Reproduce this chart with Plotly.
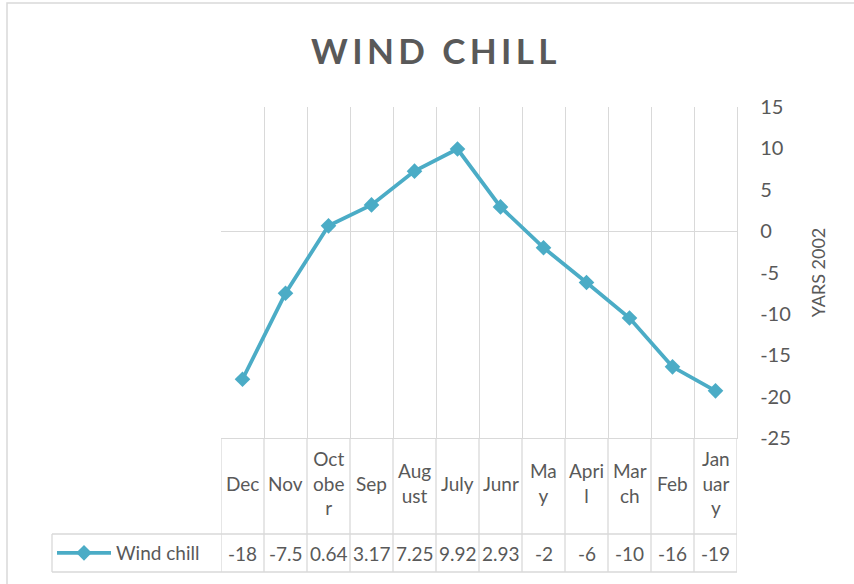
import plotly.graph_objects as go

# ---- data ----
categories = ["Dec", "Nov", "October", "Sep", "August", "July", "Junr", "May", "April", "March", "Feb", "January"]
category_labels = ["Dec", "Nov", "Oct<br>obe<br>r", "Sep", "Aug<br>ust", "July", "Junr", "Ma<br>y", "Apri<br>l", "Mar<br>ch", "Feb", "Jan<br>uar<br>y"]
wind_chill = [-17.9, -7.5, 0.64, 3.17, 7.25, 9.92, 2.93, -2.0, -6.2, -10.5, -16.4, -19.3]
table_values = ["-18", "-7.5", "0.64", "3.17", "7.25", "9.92", "2.93", "-2", "-6", "-10", "-16", "-19"]
y_ticks = [15, 10, 5, 0, -5, -10, -15, -20, -25]
y_ticktext = ["15", "10", "5", "0", "-5", "-10", "-15", "-20", "-25"]
series_name = "Wind chill"
title_text = "WIND CHILL"
y_title = "YARS 2002"

FONT = "Lato, 'Open Sans', sans-serif"
GRAY = "#595959"
GRID = "#d9d9d9"
LINE = "#4bacc6"

W, H = 854, 584
L, R, T, B = 221, 117, 107, 146
plot_h = H - T - B  # 331
plot_w = W - L - R  # 516


def py(pix):
    return (H - B - pix) / plot_h


def px(pix):
    return (pix - L) / plot_w


n = len(categories)
xpos = list(range(n))
bounds = [i - 0.5 for i in range(n + 1)]

fig = go.Figure()
fig.add_trace(go.Scatter(
    x=xpos, y=wind_chill, mode="lines+markers", name=series_name,
    line=dict(color=LINE, width=3.8),
    marker=dict(symbol="diamond", size=12, color=LINE),
    showlegend=True,
))

shapes = []
# table vertical lines
for b in bounds:
    shapes.append(dict(type="line", xref="x", yref="paper", x0=b, x1=b,
                       y0=py(572), y1=0, line=dict(color=GRID, width=1.3), layer="below"))
# table horizontal lines
for ypix, x0pix in [(534, 52), (572, 52)]:
    shapes.append(dict(type="line", xref="paper", yref="paper", x0=px(x0pix), x1=1,
                       y0=py(ypix), y1=py(ypix), line=dict(color=GRID, width=1.3)))
# legend cell left edge
shapes.append(dict(type="line", xref="paper", yref="paper", x0=px(52), x1=px(52),
                   y0=py(534), y1=py(572), line=dict(color=GRID, width=1.3)))
# chart outer border
shapes.append(dict(type="rect", xref="paper", yref="paper", x0=px(7), x1=px(W + 20),
                   y0=py(H + 20), y1=py(3), line=dict(color=GRID, width=1.5), layer="below"))

annotations = []
for i, lab in enumerate(category_labels):
    annotations.append(dict(x=i, y=py(483), xref="x", yref="paper", text=lab,
                            showarrow=False, font=dict(family=FONT, size=19, color=GRAY),
                            xanchor="center", yanchor="middle", align="center"))
for i, val in enumerate(table_values):
    annotations.append(dict(x=i, y=py(553), xref="x", yref="paper", text=val,
                            showarrow=False, font=dict(family=FONT, size=19, color=GRAY),
                            xanchor="center", yanchor="middle"))
annotations.append(dict(x=px((316 + 552) / 2), y=py(50), xref="paper", yref="paper",
                        text=f"<b>{'&#8201;'.join(title_text)}</b>", showarrow=False,
                        font=dict(family=FONT, size=35, color=GRAY),
                        xanchor="center", yanchor="middle"))

fig.update_layout(
    width=W, height=H,
    margin=dict(l=L, r=R, t=T, b=B),
    paper_bgcolor="white", plot_bgcolor="white",
    font=dict(family=FONT, size=19, color=GRAY),
    showlegend=True,
    legend=dict(x=px(52), y=py(553), xanchor="left", yanchor="middle",
                font=dict(family=FONT, size=19, color=GRAY),
                bgcolor="rgba(0,0,0,0)", itemwidth=54),
    xaxis=dict(range=[-0.5, n - 0.5], tickvals=bounds, showticklabels=False,
               showgrid=True, gridcolor=GRID, gridwidth=1.3, zeroline=False,
               showline=True, linecolor=GRID, linewidth=1.3, ticks="", fixedrange=True),
    yaxis=dict(range=[-25, 15], side="right", tickvals=y_ticks, ticktext=y_ticktext,
               showgrid=False, zeroline=True, zerolinecolor=GRID, zerolinewidth=1.3,
               showline=True, linecolor=GRID, linewidth=1.3, ticks="",
               ticklabelstandoff=18,
               tickfont=dict(family=FONT, size=20, color=GRAY),
               title=dict(text=y_title, font=dict(family=FONT, size=18, color=GRAY), standoff=22)),
    shapes=shapes,
    annotations=annotations,
)

fig.write_html("out.html", config={"displayModeBar": False},
               post_script="document.body.style.margin='0';")
